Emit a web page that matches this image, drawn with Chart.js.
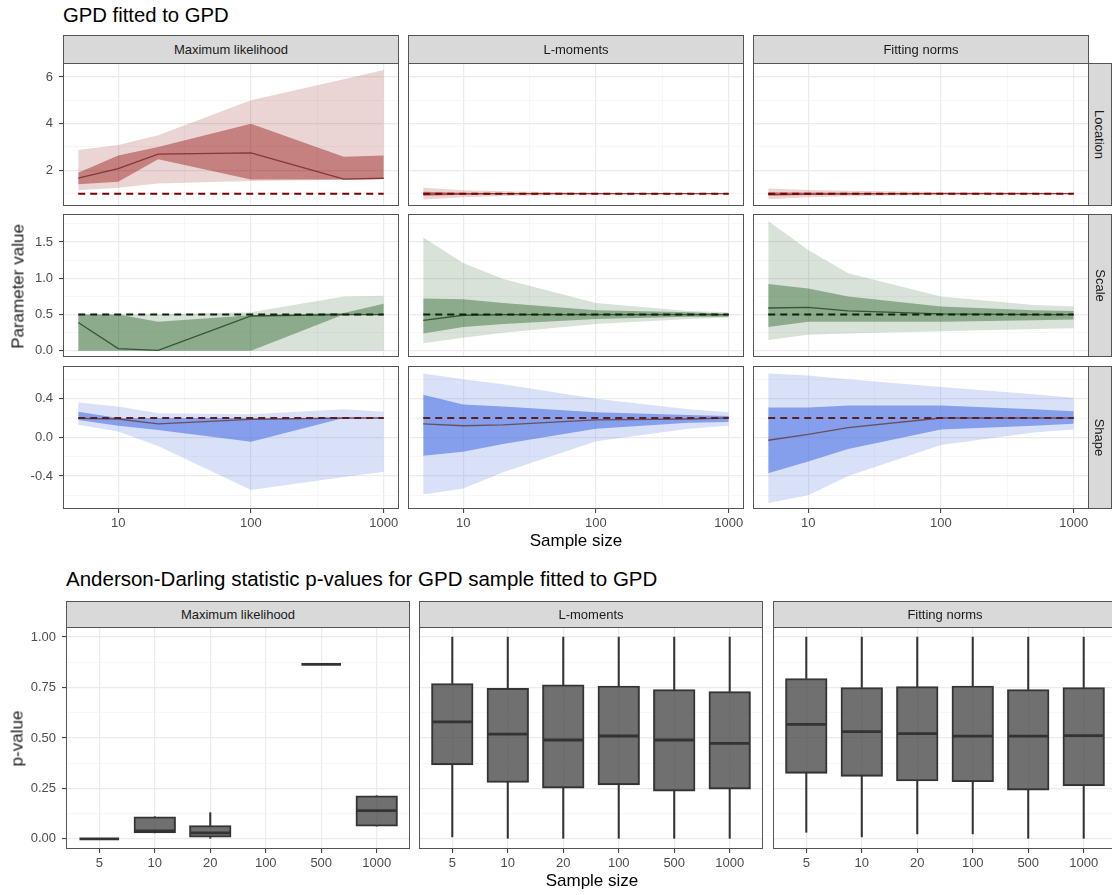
<!DOCTYPE html>
<html>
<head>
<meta charset="utf-8">
<script src="https://cdn.jsdelivr.net/npm/chart.js@4.4.1/dist/chart.umd.min.js"></script>
<style>
  body { margin: 0; background: #fff; font-family: "Liberation Sans", Arial, Helvetica, sans-serif; }
  #page { position: relative; width: 1112px; height: 895px; overflow: hidden; background: #fff; }
  canvas { position: absolute; }
  .strip { position: absolute; box-sizing: border-box; background: #d9d9d9; border: 1px solid #555;
           color: #1a1a1a; font-size: 13px; display: flex; align-items: center; justify-content: center; white-space: nowrap; }
  .strip .v { transform: rotate(90deg); }
  .txt { position: absolute; white-space: nowrap; color: #000; }
</style>
</head>
<body>
<div id="page"></div>
<script>
// sample sizes on the x axis
const sampleSizes = [5, 10, 20, 100, 500, 1000];
const methodNames = ['Maximum likelihood', 'L-moments', 'Fitting norms'];
const paramNames = ['Location', 'Scale', 'Shape'];
const trueParams = [1, 0.5, 0.2];

// ribbon rows: [2.5%, 25%, median, 75%, 97.5%] for each sample size
const locML = [
  [1.14, 1.25, 1.43, 1.54, 1.60, 1.62],
  [1.40, 1.51, 2.47, 1.61, 1.61, 1.63],
  [1.66, 2.07, 2.69, 2.75, 1.62, 1.66],
  [1.90, 2.64, 3.00, 4.00, 2.58, 2.63],
  [2.87, 3.08, 3.50, 5.00, 5.90, 6.30]
];
const locLM = [
  [0.75, 0.85, 0.90, 0.96, 0.98, 0.99],
  [0.90, 0.95, 0.97, 0.99, 0.995, 0.997],
  [0.98, 0.99, 1.00, 1.00, 1.00, 1.00],
  [1.08, 1.04, 1.03, 1.01, 1.005, 1.003],
  [1.25, 1.15, 1.10, 1.04, 1.02, 1.01]
];
const locFN = [
  [0.76, 0.84, 0.89, 0.95, 0.97, 0.98],
  [0.90, 0.94, 0.96, 0.98, 0.99, 0.99],
  [0.97, 0.98, 0.99, 1.00, 1.00, 1.00],
  [1.06, 1.05, 1.04, 1.02, 1.02, 1.01],
  [1.22, 1.16, 1.12, 1.07, 1.05, 1.04]
];
const scaleML = [
  [0, 0, 0, 0, 0, 0],
  [0, 0, 0, 0, 0.50, 0.50],
  [0.39, 0.03, 0.005, 0.48, 0.50, 0.50],
  [0.50, 0.50, 0.40, 0.49, 0.52, 0.65],
  [0.50, 0.50, 0.50, 0.53, 0.75, 0.76]
];
const scaleLM = [
  [0.105, 0.18, 0.25, 0.37, 0.44, 0.46],
  [0.24, 0.33, 0.37, 0.44, 0.47, 0.47],
  [0.42, 0.49, 0.50, 0.50, 0.50, 0.50],
  [0.72, 0.71, 0.66, 0.56, 0.53, 0.51],
  [1.56, 1.21, 0.99, 0.66, 0.55, 0.53]
];
const scaleFN = [
  [0.15, 0.22, 0.24, 0.27, 0.30, 0.31],
  [0.33, 0.40, 0.40, 0.40, 0.42, 0.43],
  [0.59, 0.60, 0.55, 0.51, 0.50, 0.50],
  [0.92, 0.86, 0.75, 0.61, 0.56, 0.55],
  [1.79, 1.39, 1.07, 0.75, 0.63, 0.61]
];
const shapeML = [
  [0.13, 0.06, -0.09, -0.545, -0.41, -0.355],
  [0.18, 0.12, 0.075, -0.045, 0.20, 0.20],
  [0.196, 0.19, 0.14, 0.186, 0.20, 0.20],
  [0.265, 0.20, 0.20, 0.20, 0.20, 0.20],
  [0.36, 0.32, 0.25, 0.24, 0.29, 0.265]
];
const shapeLM = [
  [-0.59, -0.53, -0.36, -0.04, 0.09, 0.12],
  [-0.19, -0.15, -0.07, 0.09, 0.15, 0.16],
  [0.14, 0.12, 0.13, 0.18, 0.19, 0.20],
  [0.44, 0.34, 0.32, 0.26, 0.23, 0.22],
  [0.66, 0.60, 0.55, 0.40, 0.29, 0.26]
];
const shapeFN = [
  [-0.68, -0.60, -0.40, -0.08, 0.05, 0.08],
  [-0.37, -0.25, -0.12, 0.08, 0.12, 0.14],
  [-0.03, 0.03, 0.10, 0.20, 0.20, 0.20],
  [0.31, 0.31, 0.33, 0.33, 0.29, 0.27],
  [0.66, 0.64, 0.60, 0.52, 0.445, 0.41]
];

// boxplot rows: [min, q1, median, q3, max] of the AD p-values
const pvalML = [
  [0, 0.03, 0.0, null, 0.865, 0.063],
  [0, 0.03, 0.008, null, 0.865, 0.063],
  [0, 0.04, 0.03, null, 0.865, 0.14],
  [0, 0.11, 0.066, null, 0.865, 0.214],
  [0, 0.11, 0.13, null, 0.865, 0.214]
];
const pvalLM = [
  [0.01, 0.003, 0.0, 0.0, 0.0, 0.0],
  [0.367, 0.28, 0.252, 0.268, 0.237, 0.247],
  [0.58, 0.519, 0.49, 0.51, 0.49, 0.473],
  [0.77, 0.746, 0.764, 0.757, 0.74, 0.73],
  [1, 1, 1, 1, 1, 1]
];
const pvalFN = [
  [0.033, 0.01, 0.025, 0.025, 0.003, 0.003],
  [0.325, 0.31, 0.287, 0.283, 0.242, 0.263],
  [0.568, 0.532, 0.522, 0.509, 0.509, 0.512],
  [0.795, 0.75, 0.755, 0.757, 0.74, 0.75],
  [1, 1, 1, 1, 1, 1]
];

// axis breaks
const xMajor = [10, 100, 1000];
const xMinor = [31.62, 316.2];
const locMajor = [2, 4, 6], locMinor = [1, 3, 5];
const scaleMajor = [0, 0.5, 1, 1.5], scaleMinor = [0.25, 0.75, 1.25, 1.75];
const shapeMajor = [-0.4, 0, 0.4], shapeMinor = [-0.6, -0.2, 0.2, 0.6];
const pMajor = [0, 0.25, 0.5, 0.75, 1], pMinor = [0.125, 0.375, 0.625, 0.875];

Chart.defaults.font.family = '"Liberation Sans", Arial, Helvetica, sans-serif';
Chart.defaults.animation = false;

const page = document.getElementById('page');
const PAD = 14, Y_AXIS_W = 50, X_AXIS_H = 26;

const rows = [
  { stats: [locML, locLM, locFN], major: locMajor, minor: locMinor, min: 0.47, max: 6.6, fmt: v => String(v),
    outer: 'rgba(139,0,0,0.17)', inner: 'rgba(139,0,0,0.40)', line: 'rgba(125,40,40,0.85)', truth: '#7a0000' },
  { stats: [scaleML, scaleLM, scaleFN], major: scaleMajor, minor: scaleMinor, min: -0.085, max: 1.885, fmt: v => v.toFixed(1),
    outer: 'rgba(25,85,25,0.17)', inner: 'rgba(25,85,25,0.40)', line: 'rgba(40,80,40,0.9)', truth: '#0c200c' },
  { stats: [shapeML, shapeLM, shapeFN], major: shapeMajor, minor: shapeMinor, min: -0.741, max: 0.738, fmt: v => v.toFixed(1),
    outer: 'rgba(65,105,225,0.20)', inner: 'rgba(65,105,225,0.55)', line: 'rgba(105,70,75,0.9)', truth: '#5a2020' }
];

function addCanvas(x, y, w, h) {
  const c = document.createElement('canvas');
  c.width = w; c.height = h;
  c.style.left = x + 'px'; c.style.top = y + 'px';
  c.style.width = w + 'px'; c.style.height = h + 'px';
  page.appendChild(c);
  return c;
}

function addText(text, x, y, size, extra) {
  const d = document.createElement('div');
  d.className = 'txt';
  d.textContent = text;
  d.style.left = x + 'px';
  d.style.top = y + 'px';
  d.style.fontSize = size + 'px';
  d.style.lineHeight = size + 'px';
  if (extra) Object.assign(d.style, extra);
  page.appendChild(d);
  return d;
}

function addStrip(text, x, y, w, h, vertical) {
  const d = document.createElement('div');
  d.className = 'strip';
  d.style.left = x + 'px'; d.style.top = y + 'px';
  d.style.width = w + 'px'; d.style.height = h + 'px';
  const s = document.createElement('span');
  s.textContent = text;
  if (vertical) s.className = 'v';
  d.appendChild(s);
  page.appendChild(d);
}

const panelBorder = {
  id: 'panelBorder',
  afterDraw(chart) {
    const { ctx, chartArea: a } = chart;
    ctx.save();
    ctx.strokeStyle = '#555';
    ctx.lineWidth = 1;
    ctx.strokeRect(Math.round(a.left) + 0.5, Math.round(a.top) + 0.5,
                   Math.round(a.right - a.left) - 1, Math.round(a.bottom - a.top) - 1);
    ctx.restore();
  }
};

function axis(type, pos, min, max, major, minor, fmt, show) {
  const isMajor = v => major.some(m => Math.abs(m - v) < 1e-6 * Math.max(1, Math.abs(m)));
  const all = major.concat(minor).sort((a, b) => a - b);
  const horizontal = pos === 'bottom';
  return {
    type, position: pos, min, max, offset: false,
    afterBuildTicks: s => { s.ticks = all.map(v => ({ value: v })); },
    afterFit: s => {
      if (horizontal) s.height = show ? X_AXIS_H : 0;
      else s.width = show ? Y_AXIS_W : 0;
    },
    ticks: {
      display: show, autoSkip: false, maxRotation: 0, minRotation: 0,
      padding: horizontal ? 3 : 6, color: '#4d4d4d', font: { size: 13 },
      callback: v => isMajor(v) ? fmt(v) : ''
    },
    grid: {
      offset: false, drawTicks: show, tickLength: 4, tickWidth: 1,
      color: c => (c.tick && isMajor(c.tick.value)) ? '#ebebeb' : '#f3f3f3',
      lineWidth: c => (c.tick && isMajor(c.tick.value)) ? 1.2 : 0.7,
      tickColor: c => (c.tick && isMajor(c.tick.value)) ? '#333' : 'rgba(0,0,0,0)'
    },
    border: { display: false }
  };
}

function ribbonDatasets(stats, truth, row) {
  const pts = arr => sampleSizes.map((n, i) => ({ x: n, y: arr[i] }));
  const base = { pointRadius: 0, borderWidth: 0, borderColor: 'rgba(0,0,0,0)', fill: false, tension: 0 };
  return [
    { ...base, data: sampleSizes.map(n => ({ x: n, y: truth })), borderColor: row.truth, borderWidth: 2, borderDash: [7, 5] },
    { ...base, data: pts(stats[2]), borderColor: row.line, borderWidth: 1.3 },
    { ...base, data: pts(stats[1]) },
    { ...base, data: pts(stats[3]), fill: '-1', backgroundColor: row.inner },
    { ...base, data: pts(stats[0]) },
    { ...base, data: pts(stats[4]), fill: '-1', backgroundColor: row.outer }
  ];
}

// ---- top figure: GPD fitted to GPD ----
const topColX = [63, 408, 753], topRowY = [63, 214, 366];
const TOP_W = 336, TOP_H = 143;

rows.forEach((row, r) => {
  methodNames.forEach((m, c) => {
    const showY = c === 0, showX = r === 2;
    const yw = showY ? Y_AXIS_W : 0, xh = showX ? X_AXIS_H : 0;
    const canvas = addCanvas(topColX[c] - yw - PAD, topRowY[r] - PAD, TOP_W + yw + 2 * PAD, TOP_H + xh + 2 * PAD);
    new Chart(canvas, {
      type: 'line',
      data: { datasets: ribbonDatasets(row.stats[c], trueParams[r], row) },
      options: {
        responsive: false, animation: false, events: [],
        layout: { padding: PAD, autoPadding: false },
        plugins: { legend: { display: false }, tooltip: { enabled: false } },
        scales: {
          x: axis('logarithmic', 'bottom', 3.84, 1303, xMajor, xMinor, v => String(v), showX),
          y: axis('linear', 'left', row.min, row.max, row.major, row.minor, row.fmt, showY)
        }
      },
      plugins: [panelBorder]
    });
  });
});

methodNames.forEach((m, c) => addStrip(m, topColX[c], 35, TOP_W, 29));
paramNames.forEach((p, r) => addStrip(p, topColX[2] + TOP_W - 1, topRowY[r], 24, TOP_H, true));

addText('GPD fitted to GPD', 63, 4.6, 20.3);
addText('Sample size', 476, 532, 17, { width: '200px', textAlign: 'center' });
addText('Parameter value', 18.1 - 100, 286 - 8.5, 17, { width: '200px', textAlign: 'center', transform: 'rotate(-90deg)', color: '#1a1a1a' });

// ---- bottom figure: Anderson-Darling p-values ----
const botColX = [66, 419, 773];
const BOT_Y = 627, BOT_W = 344, BOT_H = 222;
const pvalStats = [pvalML, pvalLM, pvalFN];

function boxDatasets(st, boxW) {
  const idx = sampleSizes.map((n, i) => i);
  const has = i => st[2][i] !== null;
  return [
    { type: 'scatter', data: idx.filter(has).map(i => ({ x: i, y: st[2][i] })),
      pointStyle: 'line', pointRadius: boxW / 2 - 1, pointBorderWidth: 2.8, pointBorderColor: '#333', pointBackgroundColor: '#333' },
    { type: 'bar', grouped: false, barThickness: boxW, borderSkipped: false, borderWidth: 1.4,
      borderColor: '#333', backgroundColor: 'rgba(62,62,62,0.74)',
      data: idx.filter(has).map(i => ({ x: i, y: [st[1][i], st[3][i]] })) },
    { type: 'bar', grouped: false, barThickness: 1.4, borderWidth: 0, backgroundColor: '#333',
      data: idx.filter(has).map(i => ({ x: i, y: [st[3][i], st[4][i]] })) },
    { type: 'bar', grouped: false, barThickness: 1.4, borderWidth: 0, backgroundColor: '#333',
      data: idx.filter(has).map(i => ({ x: i, y: [st[0][i], st[1][i]] })) }
  ];
}

pvalStats.forEach((st, c) => {
  const showY = c === 0;
  const yw = showY ? Y_AXIS_W : 0;
  const canvas = addCanvas(botColX[c] - yw - PAD, BOT_Y - PAD, BOT_W + yw + 2 * PAD, BOT_H + X_AXIS_H + 2 * PAD);
  const boxW = 0.75 * BOT_W / 6.2;
  new Chart(canvas, {
    type: 'bar',
    data: { datasets: boxDatasets(st, boxW) },
    options: {
      responsive: false, animation: false, events: [],
      layout: { padding: PAD, autoPadding: false },
      plugins: { legend: { display: false }, tooltip: { enabled: false } },
      scales: {
        x: axis('linear', 'bottom', -0.6, 5.6, [0, 1, 2, 3, 4, 5], [], v => String(sampleSizes[Math.round(v)]), true),
        y: axis('linear', 'left', -0.05, 1.05, pMajor, pMinor, v => v.toFixed(2), showY)
      }
    },
    plugins: [panelBorder]
  });
});

methodNames.forEach((m, c) => addStrip(m, botColX[c], 601, BOT_W, 27));

addText('Anderson-Darling statistic p-values for GPD sample fitted to GPD', 66, 569.4, 20.5);
addText('Sample size', 492, 872.3, 17, { width: '200px', textAlign: 'center' });
addText('p-value', 17.1 - 100, 738 - 8.5, 17, { width: '200px', textAlign: 'center', transform: 'rotate(-90deg)', color: '#1a1a1a' });
</script>
</body>
</html>
